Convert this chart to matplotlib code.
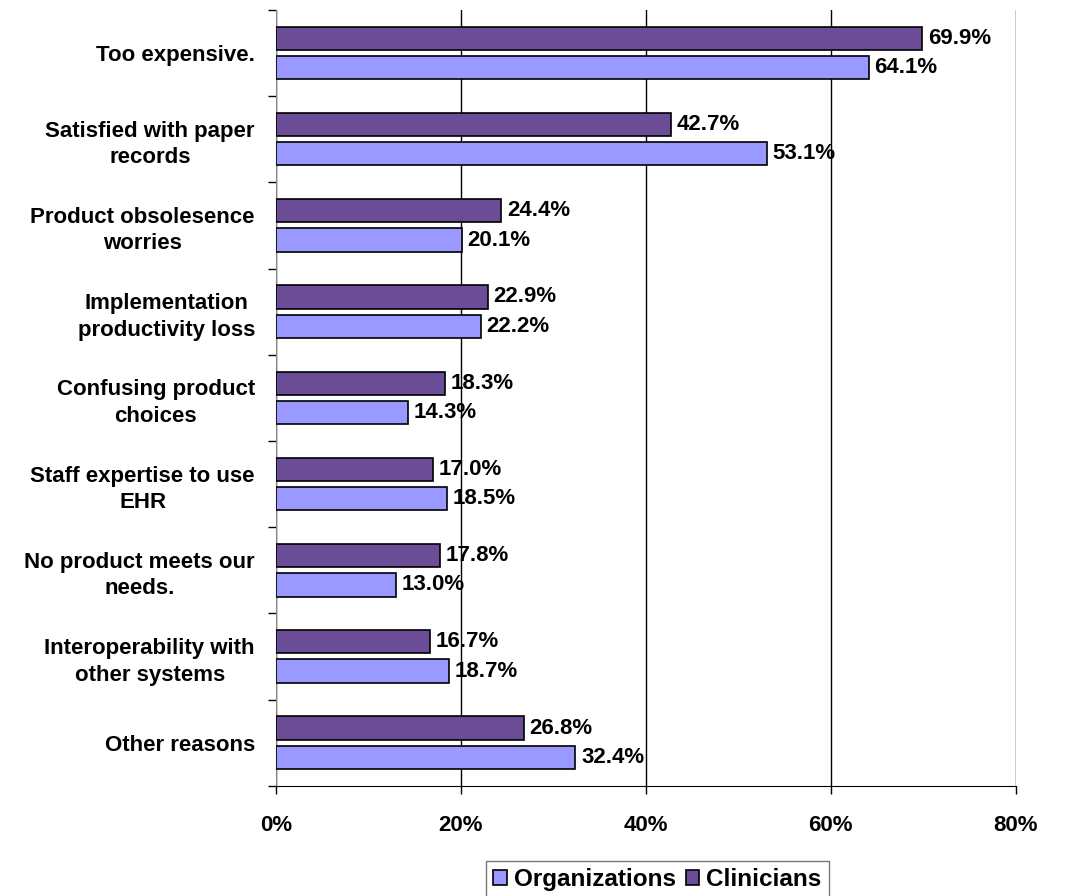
import matplotlib.pyplot as plt
import numpy as np

plt.rcParams['font.family'] = ['Liberation Sans', 'DejaVu Sans']
plt.rcParams['font.weight'] = 'bold'

categories = ['Too expensive.', 'Satisfied with paper\nrecords', 'Product obsolesence\nworries',
              'Implementation\nproductivity loss', 'Confusing product\nchoices',
              'Staff expertise to use\nEHR', 'No product meets our\nneeds.',
              'Interoperability with\nother systems', 'Other reasons']
clinicians = [69.9, 42.7, 24.4, 22.9, 18.3, 17.0, 17.8, 16.7, 26.8]
organizations = [64.1, 53.1, 20.1, 22.2, 14.3, 18.5, 13.0, 18.7, 32.4]
xticks = [0, 20, 40, 60, 80]

fs = 16

fig = plt.figure(figsize=(10.69, 8.96), dpi=100)
ax = fig.add_axes([0.258, 0.123, 0.692, 0.866])

y = np.arange(len(categories))
h = 0.27
off = 0.17
b1 = ax.barh(y - off, clinicians, height=h, color='#6B4C96', edgecolor='black', linewidth=1.2,
             label='Clinicians', zorder=3)
b2 = ax.barh(y + off, organizations, height=h, color='#9999FF', edgecolor='black', linewidth=1.2,
             label='Organizations', zorder=3)

for bars, vals in [(b1, clinicians), (b2, organizations)]:
    for bar, v in zip(bars, vals):
        ax.text(v + 0.6, bar.get_y() + bar.get_height() / 2, '%.1f%%' % v,
                va='center', ha='left', fontsize=fs, fontweight='bold', zorder=4)

ax.set_ylim(len(categories) - 0.5, -0.5)
ax.set_xlim(0, 80)
ax.set_xticks(xticks)
ax.set_xticklabels(['%d%%' % t for t in xticks], fontsize=fs, fontweight='bold')
ax.tick_params(axis='x', direction='out', length=6, pad=15, width=1)
# ticks between the groups, labels in the middle
ax.set_yticks(np.arange(len(categories) + 1) - 0.5, minor=False)
ax.set_yticklabels([])
ax.tick_params(axis='y', direction='out', length=6, width=1)
ax.set_yticks(y, minor=True)
ax.set_yticklabels(categories, minor=True, fontsize=fs, fontweight='bold',
                   multialignment='center', linespacing=1.35)
ax.tick_params(axis='y', which='minor', length=0, pad=15)
ax.grid(axis='x', color='black', linewidth=1, zorder=0)
ax.spines['top'].set_visible(False)
ax.spines['right'].set_visible(False)
ax.spines['left'].set_color('#888888')

handles = [b2, b1]
leg = fig.legend(handles, ['Organizations', 'Clinicians'], loc='center', bbox_to_anchor=(0.615, 0.018),
                 ncol=2, frameon=True, fancybox=False, edgecolor='#555555', fontsize=17.5,
                 handlelength=0.55, handleheight=0.55, handletextpad=0.3, columnspacing=0.4,
                 borderpad=0.3, borderaxespad=0)

fig.savefig('out.png', dpi=100)
